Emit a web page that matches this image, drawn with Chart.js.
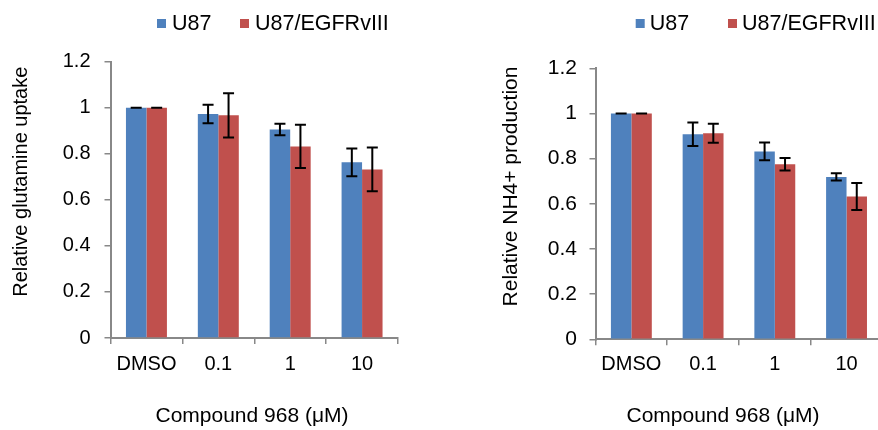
<!DOCTYPE html>
<html>
<head>
<meta charset="utf-8">
<script src="https://cdn.jsdelivr.net/npm/chart.js@4"></script>
<style>
  html, body { margin: 0; padding: 0; background: #fff; overflow: hidden; width: 878px; height: 430px; }
  canvas { position: absolute; top: 0; }
  #uptake { left: 0; }
  #nh4 { left: 440px; }
</style>
</head>
<body>
<canvas id="uptake" width="440" height="430"></canvas>
<canvas id="nh4" width="460" height="430"></canvas>
<script>
// Treatment groups on the x axis
const doses = ['DMSO', '0.1', '1', '10'];
const seriesNames = ['U87', 'U87/EGFRvIII'];

// Relative glutamine uptake (mean and error)
const uptakeU87 = [1.0, 0.973, 0.906, 0.763];
const uptakeU87Err = [0, 0.040, 0.025, 0.060];
const uptakeVIII = [1.0, 0.967, 0.832, 0.732];
const uptakeVIIIErr = [0, 0.096, 0.094, 0.095];

// Relative NH4+ production (mean and error)
const nh4U87 = [1.0, 0.908, 0.832, 0.719];
const nh4U87Err = [0, 0.052, 0.039, 0.016];
const nh4VIII = [1.0, 0.912, 0.775, 0.632];
const nh4VIIIErr = [0, 0.042, 0.028, 0.060];

const yTickValues = [0, 0.2, 0.4, 0.6, 0.8, 1, 1.2];

const BLUE = '#4F81BD';
const RED = '#C0504D';
const AXIS = '#888888';
const FONT = 'Liberation Sans, Arial, sans-serif';

// Error bars: vertical whisker with caps, positioned from the bar elements and the y scale
const errorBarPlugin = {
  id: 'errorBars',
  afterDatasetsDraw(chart) {
    const ctx = chart.ctx;
    const y = chart.scales.y;
    ctx.save();
    ctx.strokeStyle = '#000';
    ctx.lineWidth = 2;
    chart.data.datasets.forEach((ds, di) => {
      const meta = chart.getDatasetMeta(di);
      meta.data.forEach((bar, i) => {
        const v = ds.data[i];
        const e = ds.errors[i];
        const top = y.getPixelForValue(v + e);
        const bot = y.getPixelForValue(v - e);
        const cx = bar.x;
        const cap = 5.5;
        ctx.beginPath();
        ctx.moveTo(cx, top); ctx.lineTo(cx, bot);
        ctx.moveTo(cx - cap, top); ctx.lineTo(cx + cap, top);
        ctx.moveTo(cx - cap, bot); ctx.lineTo(cx + cap, bot);
        ctx.stroke();
      });
    });
    ctx.restore();
  }
};

// Legend row and axis captions placed in the free space around the plot
const captionPlugin = {
  id: 'captions',
  afterDraw(chart, args, opts) {
    const ctx = chart.ctx;
    ctx.save();
    ctx.fillStyle = '#000';
    // legend
    const lg = opts.legend;
    ctx.font = lg.size + 'px ' + FONT;
    ctx.textBaseline = 'middle';
    ctx.textAlign = 'left';
    chart.data.datasets.forEach((ds, i) => {
      const x = lg.xs[i];
      ctx.fillStyle = ds.backgroundColor;
      ctx.fillRect(x, lg.y - 4.5, 9, 9);
      ctx.fillStyle = '#000';
      ctx.fillText(ds.label, x + 9 + lg.gap, lg.y + 0.5);
    });
    // y axis caption
    const yt = opts.yTitle;
    ctx.save();
    ctx.translate(yt.x, yt.y);
    ctx.rotate(-Math.PI / 2);
    ctx.textAlign = 'center';
    ctx.font = yt.size + 'px ' + FONT;
    ctx.fillText(yt.text, 0, 0);
    ctx.restore();
    // x axis caption
    const xt = opts.xTitle;
    ctx.textAlign = 'center';
    ctx.font = xt.size + 'px ' + FONT;
    ctx.fillText(xt.text, xt.x, xt.y);
    ctx.restore();
  }
};

function makeChart(id, setA, errA, setB, errB, layout) {
  return new Chart(document.getElementById(id), {
    type: 'bar',
    data: {
      labels: doses,
      datasets: [
        { label: seriesNames[0], data: setA, errors: errA, backgroundColor: BLUE },
        { label: seriesNames[1], data: setB, errors: errB, backgroundColor: RED }
      ]
    },
    options: {
      responsive: false,
      animation: false,
      layout: { padding: { left: 0, top: layout.top, right: layout.right, bottom: 0 } },
      datasets: { bar: { categoryPercentage: 0.57, barPercentage: 1.0 } },
      plugins: {
        legend: { display: false },
        tooltip: { enabled: false },
        captions: {
          legend: layout.legend,
          yTitle: layout.yTitle,
          xTitle: layout.xTitle
        }
      },
      scales: {
        x: {
          grid: { display: true, drawOnChartArea: false, drawTicks: true, tickLength: 6, color: AXIS, lineWidth: 1.5, offset: true },
          border: { display: true, color: AXIS, width: 2 },
          ticks: { color: '#000', font: { family: FONT, size: 20 }, padding: layout.xPad, maxRotation: 0 },
          afterFit(scale) { scale.height = layout.xHeight; }
        },
        y: {
          min: 0, max: 1.2,
          afterBuildTicks(scale) { scale.ticks = yTickValues.map(v => ({ value: v })); },
          grid: { display: true, drawOnChartArea: false, drawTicks: true, tickLength: 6, color: AXIS, lineWidth: 1.5 },
          border: { display: true, color: AXIS, width: 2 },
          ticks: {
            color: '#000', font: { family: FONT, size: layout.yFont }, padding: layout.yPad,
            callback: v => String(Number(v.toFixed(1)))
          },
          afterFit(scale) { scale.width = layout.yWidth; }
        }
      }
    },
    plugins: [errorBarPlugin, captionPlugin]
  });
}

makeChart('uptake', uptakeU87, uptakeU87Err, uptakeVIII, uptakeVIIIErr, {
  top: 61.7, right: 42, yWidth: 110.5, xHeight: 92, xPad: 8.5, yPad: 14, yFont: 20,
  legend: { xs: [157, 240], y: 23.5, gap: 6, size: 21.5 },
  yTitle: { text: 'Relative glutamine uptake', x: 21, y: 181.7, size: 20 },
  xTitle: { text: 'Compound 968 (\u03BCM)', x: 252, y: 416.5, size: 21 }
});

makeChart('nh4', nh4U87, nh4U87Err, nh4VIII, nh4VIIIErr, {
  top: 68.3, right: 17.6, yWidth: 155.5, xHeight: 90.7, xPad: 7, yPad: 12.5, yFont: 21,
  legend: { xs: [195.7, 288], y: 23.5, gap: 5, size: 21.5 },
  yTitle: { text: 'Relative NH4+ production', x: 71.5, y: 186.5, size: 21 },
  xTitle: { text: 'Compound 968 (\u03BCM)', x: 283, y: 416.7, size: 21 }
});
</script>
</body>
</html>
